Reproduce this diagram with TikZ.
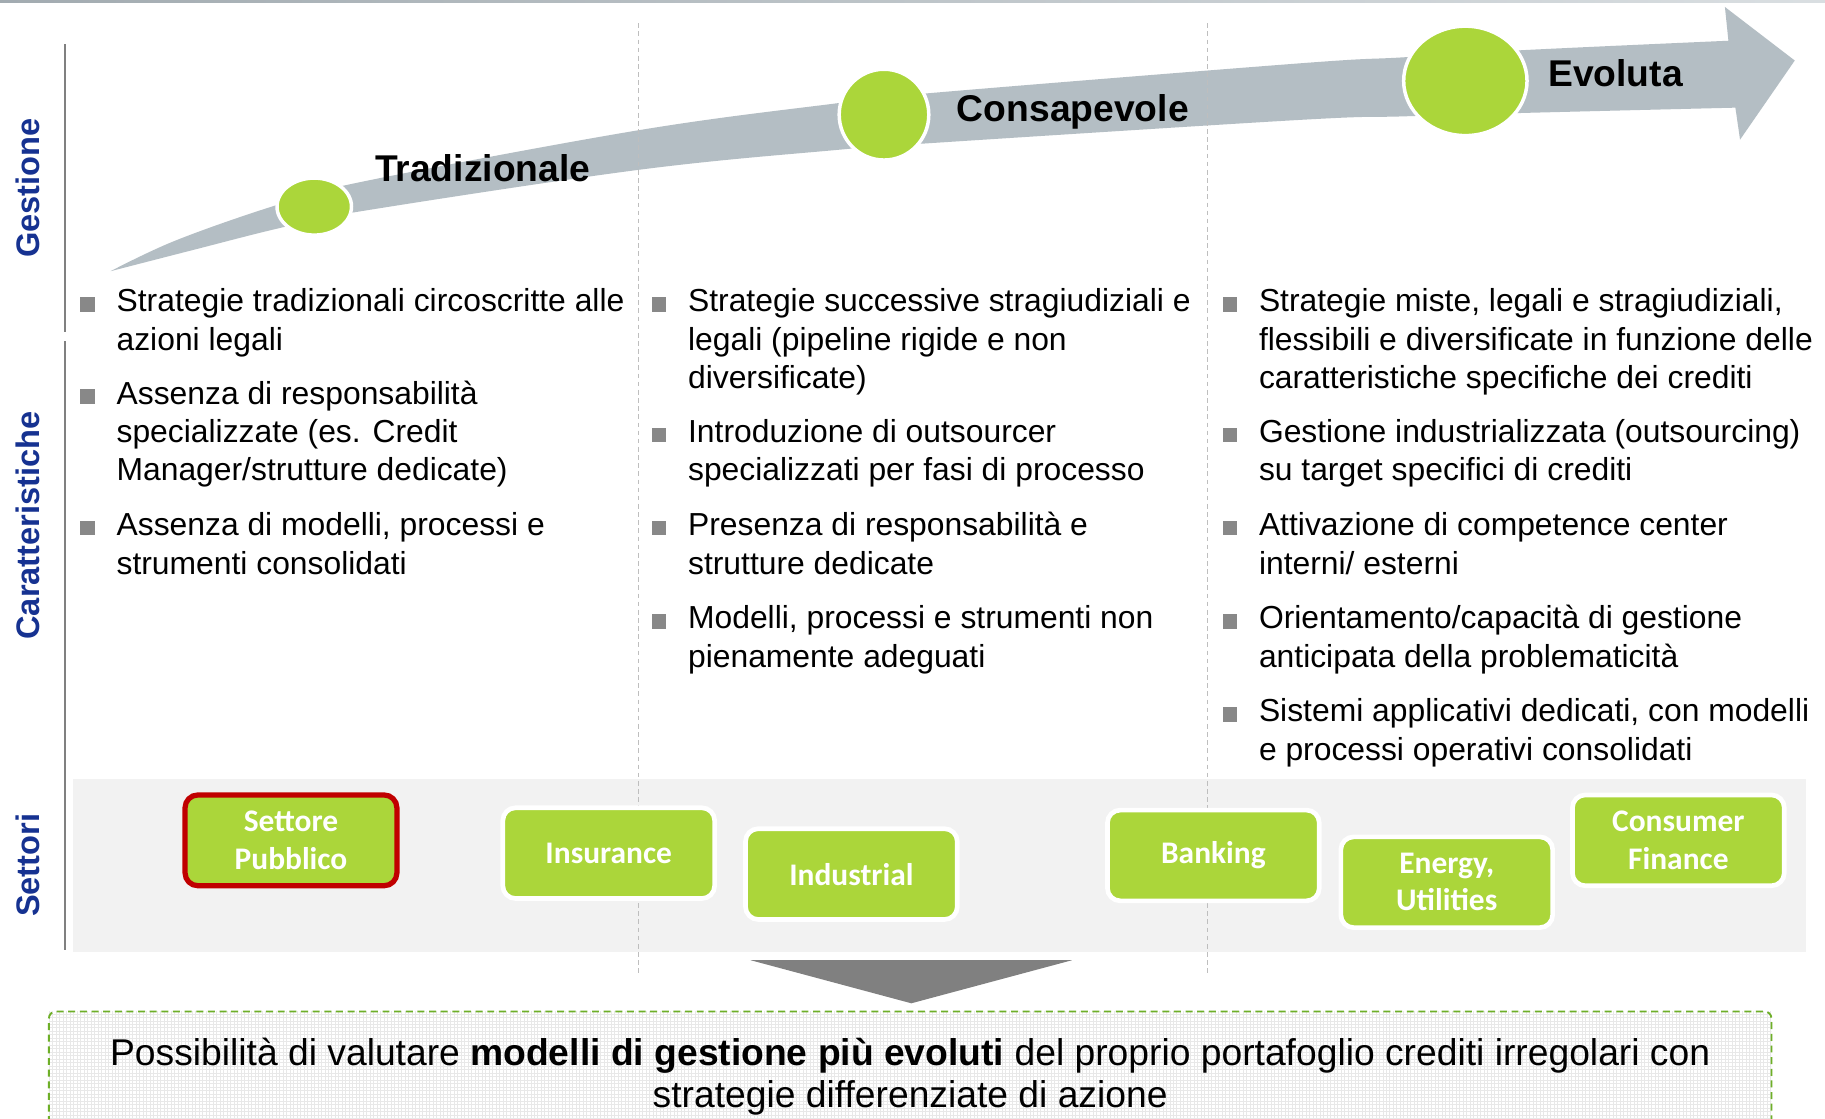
\documentclass[tikz,border=0pt]{standalone}
\usepackage{fontspec}
\setmainfont{Liberation Sans}
\newfontfamily\calfont{Carlito}
\usetikzlibrary{shapes.geometric,patterns}
\definecolor{gblue}{RGB}{22,50,145}
\definecolor{agrey}{RGB}{180,190,196}
\definecolor{lgreen}{RGB}{171,214,58}
\definecolor{bandgrey}{RGB}{242,242,242}
\definecolor{dashgreen}{RGB}{110,175,40}
\definecolor{bulgrey}{RGB}{136,136,136}
\definecolor{pubred}{RGB}{192,0,0}
\definecolor{trigrey}{RGB}{128,128,128}
\definecolor{vlgrey}{RGB}{190,190,190}
\newcommand\myitem[4]{%
  \fill[bulgrey] (#2-31,#3-12.5) rectangle (#2-18.5,#3);
  \node[btext] (#1) at (#2,#3-23.1) {\strut #4};}
\begin{document}
\begin{tikzpicture}[x=1pt,y=-1pt,
  btext/.style={anchor=north west, inner sep=0pt, align=left, font=\fontsize{27.35}{33}\selectfont},
  sidelab/.style={rotate=90, anchor=base, inner sep=0pt, text=gblue, font=\bfseries\fontsize{28}{32}\selectfont},
  phaselab/.style={anchor=base west, inner sep=0pt, font=\bfseries\fontsize{32}{36}\selectfont},
  circ/.style={ellipse, draw=white, line width=3pt, fill=lgreen, inner sep=0pt},
  sbox/.style={draw=white, line width=4pt, fill=lgreen, rounded corners=11pt,
    minimum width=182pt, minimum height=78pt, inner sep=0pt, align=center,
    text=white, font=\calfont\bfseries\fontsize{27}{32}\selectfont},
  vdash/.style={draw=vlgrey, line width=1.2pt, dash pattern=on 4pt off 3pt},
  leftline/.style={draw=trigrey, line width=2pt}]
\useasboundingbox (0,0) rectangle (1568,961);
\fill[white] (0,0) rectangle (1568,961);
% top bar
\shade[left color=agrey!90!black, right color=agrey!50] (0,0) rectangle (1568,2.5);
% settori band
\fill[bandgrey] (63,669) rectangle (1552,818);
% arrow
\fill[agrey] plot[smooth, tension=0.6] coordinates {(95,233) (150,207) (232,178) (307,157) (548,112) (717,89) (799,80) (1117,54.4) (1205,49.3) (1310,43) (1485,35)}
  -- (1482,6) -- (1542,52) -- (1495,120)
  -- plot[smooth, tension=0.6] coordinates {(1491,92.5) (1310,97) (1205,100) (1117,103) (799,123) (717,129) (548,146) (307,182) (240,196) (165,215) (95,233)} -- cycle;
% dashed separators
\coordinate (d1t) at (548.5,20); \coordinate (d1b) at (548.5,836);
\coordinate (d2t) at (1037.5,20); \coordinate (d2b) at (1037.5,836);
\draw[vdash] (d1t) -- (d1b);
\draw[vdash] (d2t) -- (d2b);
% circles and phase labels
\node[circ, minimum width=64pt, minimum height=49pt] (c1) at (270,177.5) {};
\node[circ, minimum width=77pt, minimum height=78pt] (c2) at (759.5,98.5) {};
\node[circ, minimum width=106pt, minimum height=94pt] (c3) at (1259,69.5) {};
\node[phaselab] (trad) at (322,156) {Tradizionale};
\node[phaselab] (cons) at (822,104) {Consapevole};
\node[phaselab] (evol) at (1330,74) {Evoluta};
% left lines and side labels
\coordinate (l1t) at (55.6,38); \coordinate (l1b) at (55.6,285);
\coordinate (l2t) at (55.6,293); \coordinate (l2b) at (55.6,816);
\draw[leftline] (l1t) -- (l1b);
\draw[leftline] (l2t) -- (l2b);
\node[sidelab] (gest) at (34,161.5) {Gestione};
\node[sidelab] (car) at (34,451.5) {Caratteristiche};
\node[sidelab] (sett) at (34,743.5) {Settori};
% column 1
\myitem{a1}{100}{267.8}{Strategie tradizionali circoscritte alle\\azioni legali}
\myitem{a2}{100}{347}{Assenza di responsabilità\\specializzate (es. Credit\\Manager/strutture dedicate)}
\myitem{a3}{100}{460}{Assenza di modelli, processi e\\strumenti consolidati}
% column 2
\myitem{b1}{591}{267.8}{Strategie successive stragiudiziali e\\legali (pipeline rigide e non\\diversificate)}
\myitem{b2}{591}{380}{Introduzione di outsourcer\\specializzati per fasi di processo}
\myitem{b3}{591}{460}{Presenza di responsabilità e\\strutture dedicate}
\myitem{b4}{591}{540}{Modelli, processi e strumenti non\\pienamente adeguati}
% column 3
\myitem{e1}{1081.5}{267.8}{Strategie miste, legali e stragiudiziali,\\flessibili e diversificate in funzione delle\\caratteristiche specifiche dei crediti}
\myitem{e2}{1081.5}{380}{Gestione industrializzata (outsourcing)\\su target specifici di crediti}
\myitem{e3}{1081.5}{460}{Attivazione di competence center\\interni/ esterni}
\myitem{e4}{1081.5}{540}{Orientamento/capacità di gestione\\anticipata della problematicità}
\myitem{e5}{1081.5}{620}{Sistemi applicativi dedicati, con modelli\\e processi operativi consolidati}
% sector boxes
\node[sbox, draw=pubred, line width=4.5pt] (pub) at (250,722) {Settore\\Pubblico};
\node[sbox] (ins) at (523,733) {Insurance};
\node[sbox] (ind) at (731.5,751) {Industrial};
\node[sbox] (bank) at (1042.5,735) {Banking};
\node[sbox] (ener) at (1243,758) {Energy,\\Utilities};
\node[sbox] (cons2) at (1442,722) {Consumer\\Finance};
% triangle
\fill[trigrey] (645,825) -- (921,825) -- (783,862) -- cycle;
% bottom box
\fill[white] (42,869) rectangle (1522,985);
\fill[pattern=grid, pattern color=black!9] (42,869) rectangle (1522,985);
\draw[dashgreen, line width=1.6pt, dash pattern=on 6pt off 4pt, rounded corners=6pt] (42,985) -- (42,869) -- (1522,869) -- (1522,985);
\node[anchor=north, inner sep=0pt, align=center, font=\fontsize{32}{36}\selectfont] (concl) at (782,915-25.2)
  {\strut Possibilità di valutare \textbf{modelli di gestione più evoluti} del proprio portafoglio crediti irregolari con\\strategie differenziate di azione};
\end{tikzpicture}
\end{document}
